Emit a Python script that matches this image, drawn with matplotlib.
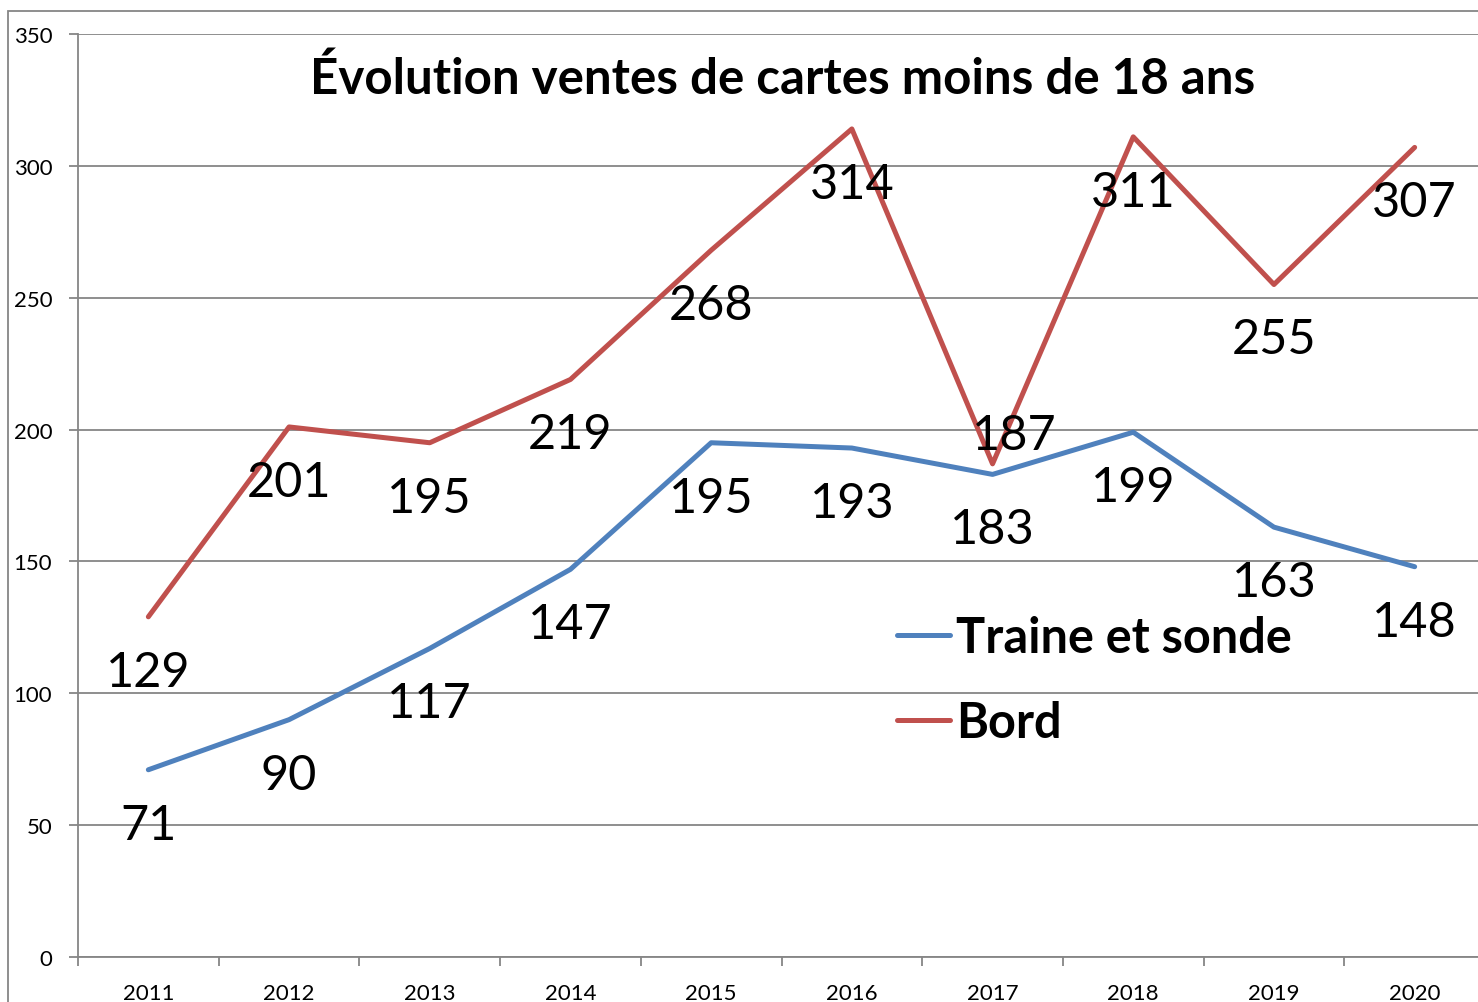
import matplotlib
matplotlib.use("Agg")
import matplotlib.pyplot as plt
from matplotlib.patches import Rectangle

years = ["2011", "2012", "2013", "2014", "2015", "2016", "2017", "2018", "2019", "2020"]
traine = [71, 90, 117, 147, 195, 193, 183, 199, 163, 148]
bord = [129, 201, 195, 219, 268, 314, 187, 311, 255, 307]
series_names = ["Traine et sonde", "Bord"]
title = "Évolution ventes de cartes moins de 18 ans"
yticks = [0, 50, 100, 150, 200, 250, 300, 350]

plt.rcParams['font.family'] = ['Lato', 'DejaVu Sans']

W, H = 1478, 1003
fig = plt.figure(figsize=(W / 100, H / 100), dpi=100)
fig.patch.set_facecolor("white")

left_px, right_px, top_px, bot_px = 78, 1485, 35, 958
ax = fig.add_axes([left_px / W, 1 - bot_px / H, (right_px - left_px) / W, (bot_px - top_px) / H])

GRAY = "#868686"
BLUE = "#4F81BD"
RED = "#C0504D"

x = list(range(len(years)))
l1, = ax.plot(x, traine, color=BLUE, lw=3.6, solid_joinstyle="round", solid_capstyle="round",
              label=series_names[0], zorder=3)
l2, = ax.plot(x, bord, color=RED, lw=3.6, solid_joinstyle="round", solid_capstyle="round",
              label=series_names[1], zorder=3)

ax.set_xlim(-0.5, len(years) - 0.5)
ax.set_ylim(0, 350)
ax.set_yticks(yticks)
ax.set_yticklabels([str(v) for v in yticks])
ax.set_xticks(x)
ax.set_xticklabels(years)
ax.set_xticks([i - 0.5 for i in range(len(years) + 1)], minor=True)

ax.tick_params(axis="x", which="major", length=0, pad=19, labelsize=16)
ax.tick_params(axis="x", which="minor", length=6.5, width=1.3, color=GRAY, direction="out")
ax.tick_params(axis="y", which="major", length=6.5, width=1.3, color=GRAY, direction="out",
               pad=12, labelsize=16)

ax.grid(axis="y", color=GRAY, lw=1.3, zorder=0)
ax.set_axisbelow(True)
for s in ["top", "right"]:
    ax.spines[s].set_visible(False)
for s in ["left", "bottom"]:
    ax.spines[s].set_color(GRAY)
    ax.spines[s].set_linewidth(1.3)

# data labels
for i, v in enumerate(traine):
    ax.annotate(str(v), (i, v), xytext=(0, -39.5), textcoords="offset points",
                ha="center", va="center", fontsize=35, zorder=4)
for i, v in enumerate(bord):
    off = (0, -39.5)
    if years[i] == "2017":
        off = (16, 21)
    ax.annotate(str(v), (i, v), xytext=off, textcoords="offset points",
                ha="center", va="center", fontsize=35, zorder=4)

leg = ax.legend(handles=[l1, l2], loc="upper left",
                bbox_to_anchor=((897 - left_px) / (right_px - left_px), (bot_px - 616) / (bot_px - top_px)),
                frameon=False, borderpad=0, borderaxespad=0, handlelength=1.1, handletextpad=0.12,
                labelspacing=0.83, prop={"size": 35, "weight": "bold"})

fig.text(783 / W, 1 - 79 / H, title, ha="center", va="center", fontsize=35.5, fontweight="bold")

fig.patches.append(Rectangle((8 / W, -0.1), 2, 1 - 12 / H + 0.1, transform=fig.transFigure,
                             fill=False, edgecolor=GRAY, lw=1.3))

fig.savefig("out.png", dpi=100)
